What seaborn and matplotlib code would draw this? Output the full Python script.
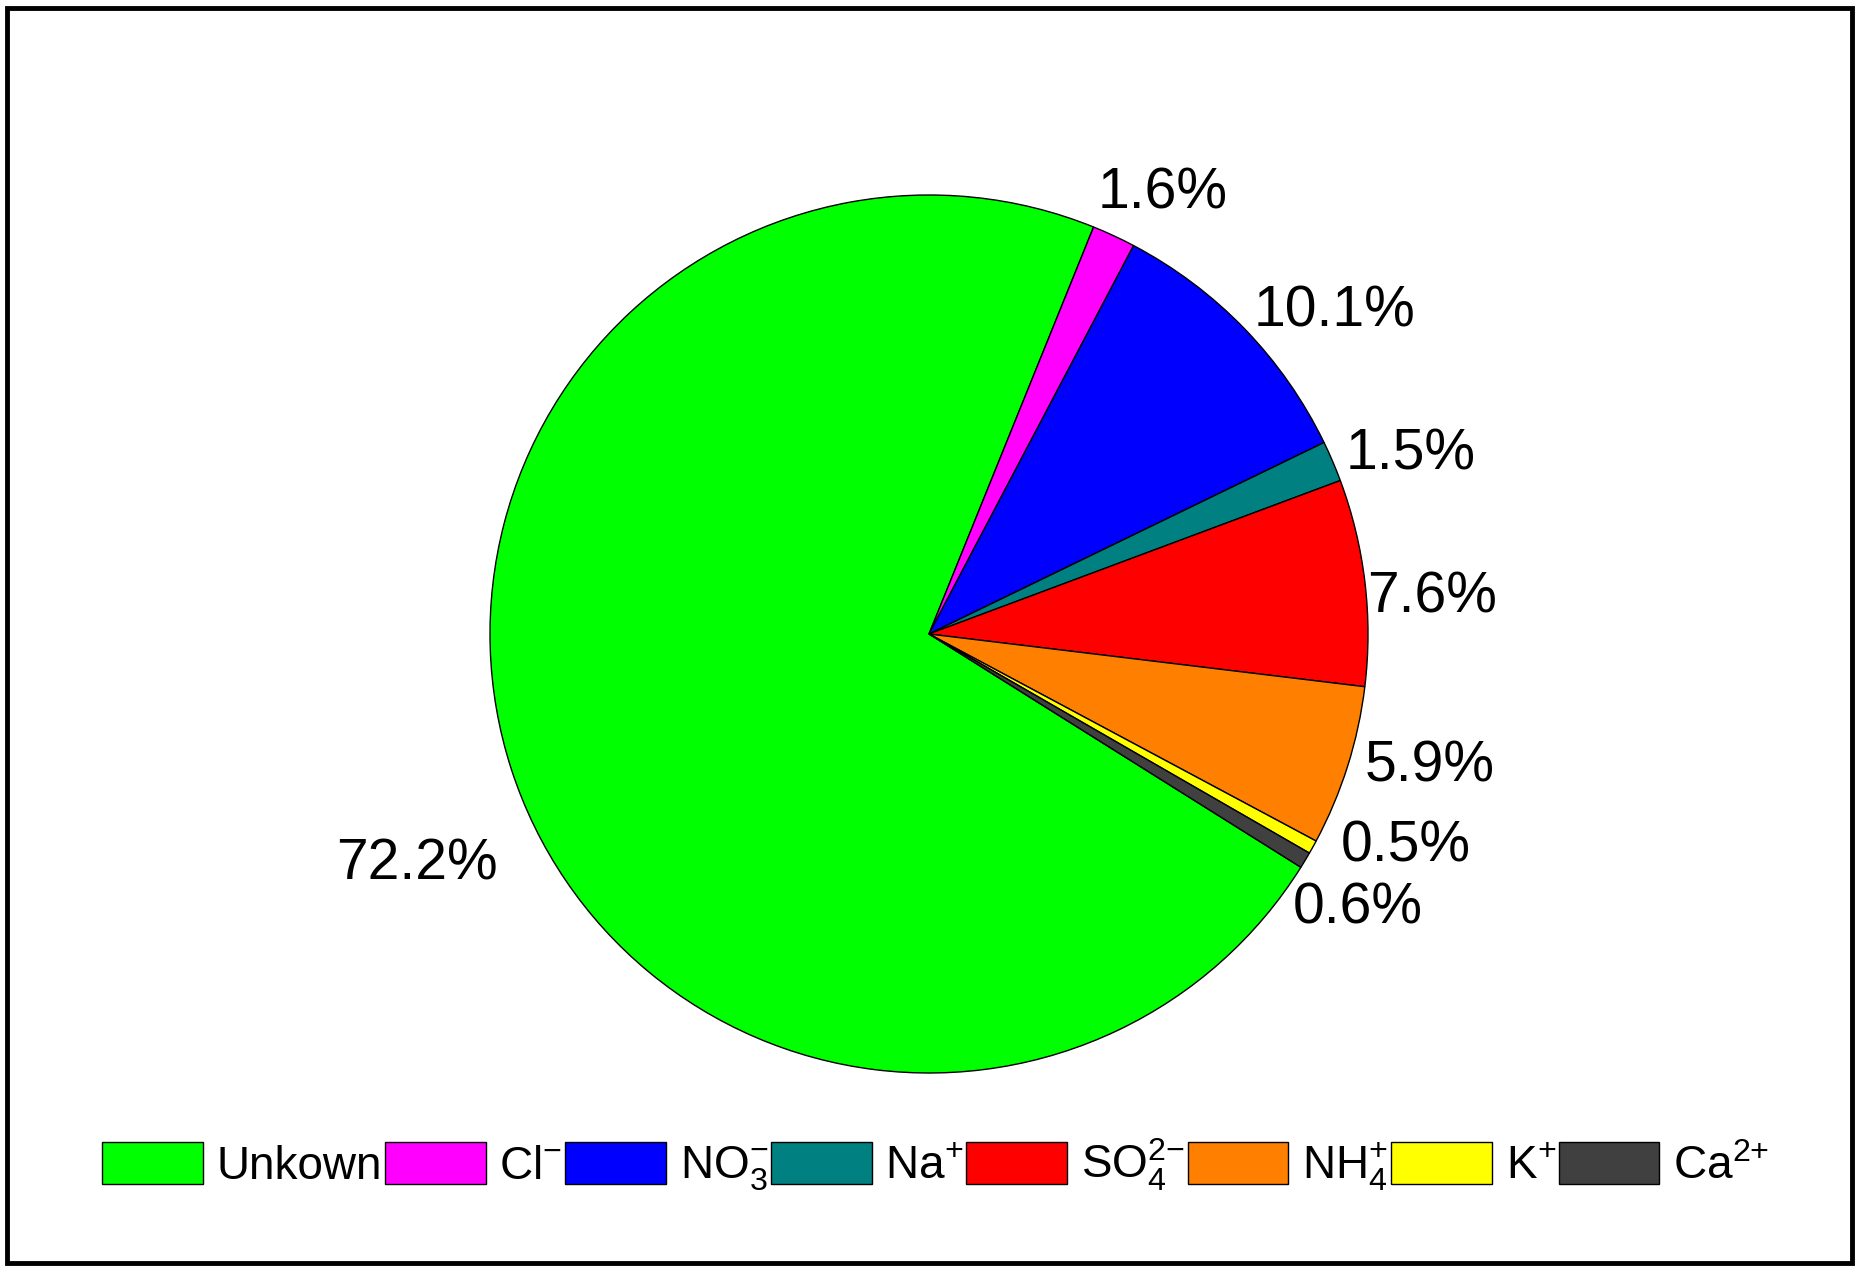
import numpy as np
import matplotlib
matplotlib.use("Agg")
import matplotlib.pyplot as plt
from matplotlib.patches import Rectangle
import seaborn as sns

# ---- data ----
categories = ["Unkown", r"Cl$^{{-}}$", r"NO$_3^{{-}}$", r"Na$^{{+}}$", r"SO$_4^{2{-}}$",
              r"NH$_4^{{+}}$", r"K$^{{+}}$", r"Ca$^{2{+}}$"]
shares = [72.2, 1.6, 10.1, 1.5, 7.6, 5.9, 0.5, 0.6]
colors = ["#00FF00", "#FF00FF", "#0000FF", "#008080", "#FF0000",
          "#FF8000", "#FFFF00", "#404040"]

sns.set_theme(style="white")
plt.rcParams["font.family"] = ["Liberation Sans", "DejaVu Sans"]
plt.rcParams["mathtext.fontset"] = "custom"
plt.rcParams["mathtext.rm"] = "Liberation Sans"
plt.rcParams["mathtext.it"] = "Liberation Sans"
plt.rcParams["mathtext.default"] = "regular"
plt.rcParams["text.color"] = "black"

W, H = 1860, 1270
fig = plt.figure(figsize=(W / 100, H / 100), dpi=100, facecolor="white")

# outer frame
fig.patches.append(Rectangle((7 / W, 7 / H), 1 - 15 / W, 1 - 15 / H,
                             transform=fig.transFigure, fill=False,
                             edgecolor="black", linewidth=3.5, zorder=10))

# pie axes: center ~ (929, 634) px, radius ~ 439 px
R = 439.0
L = 1.4
cx, cy = 929 / W, 1 - 634 / H
aw, ah = 2 * L * R / W, 2 * L * R / H
ax = fig.add_axes([cx - aw / 2, cy - ah / 2, aw, ah])

wedges, texts, autotexts = ax.pie(
    shares, colors=colors, startangle=327.9, counterclock=False,
    autopct="%.1f%%", pctdistance=1.17,
    wedgeprops=dict(edgecolor="black", linewidth=1.0),
    textprops=dict(fontsize=41, color="black"),
)
ax.set_xlim(-L, L)
ax.set_ylim(-L, L)
ax.set_aspect("equal")
ax.axis("off")

# label placement tweaks (radial factor, angular offset in degrees)
radial = [1.28, 1.135, 1.18, 1.17, 1.15, 1.18, 1.19, 1.16]
dang = [6.3, -3.0, -5.5, -2.7, -2.6, 2.7, 5.0, -1.6]
for w, t, rf, da in zip(wedges, autotexts, radial, dang):
    ang = np.deg2rad((w.theta1 + w.theta2) / 2 + da)
    t.set_position((rf * np.cos(ang), rf * np.sin(ang)))
    t.set_ha("center")
    t.set_va("center")

leg = fig.legend(wedges, categories, loc="center", bbox_to_anchor=(0.503, 1 - 1165 / H),
                 ncol=8, frameon=False, fontsize=33, handlelength=2.2,
                 handleheight=1.05, handletextpad=0.3, columnspacing=0.06,
                 borderaxespad=0)
for t in leg.get_texts():
    t.set_color("black")

fig.savefig("out.png", dpi=100, facecolor="white")
